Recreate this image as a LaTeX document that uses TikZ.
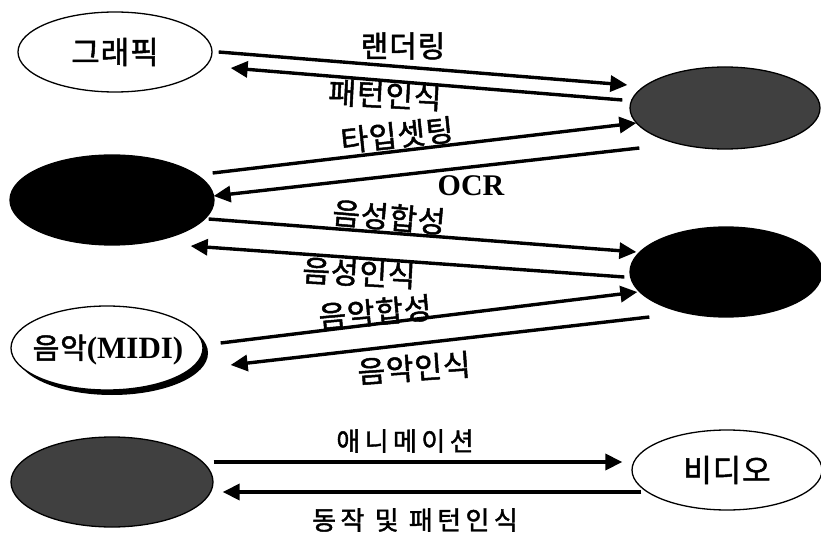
\documentclass[tikz,border=0pt]{standalone}
\usepackage{fontspec}
\setmainfont{Liberation Serif}
\newfontfamily\kr[FakeBold=1.6,LetterSpace=3]{Noto Sans CJK KR}
\newfontfamily\krwide[LetterSpace=17,FakeBold=1.6]{Noto Sans CJK KR}
\usetikzlibrary{shapes.geometric,arrows.meta,calc,shadows}
\begin{document}
\begin{tikzpicture}[x=1pt,y=-1pt,
  oval/.style={ellipse,draw=black,line width=1.3pt,inner sep=0pt},
  lightoval/.style={oval,fill=white},
  darkoval/.style={oval,fill=black!75},
  blackoval/.style={oval,fill=black},
  arr/.style={line width=3.4pt,-{Triangle[length=17pt,width=16pt]}},
  lbl/.style={font=\kr\fontsize{30}{34}\selectfont,inner sep=0pt},
  wlbl/.style={font=\krwide\fontsize{26}{30}\selectfont,inner sep=0pt},
  ocr/.style={font=\bfseries\fontsize{30}{34}\selectfont,inner sep=0pt}]
\useasboundingbox (0,0) rectangle (821,537);
% ellipses
\node[lightoval,minimum width=194,minimum height=80,font=\kr\fontsize{31}{34}\selectfont] (g) at (115,52) {그래픽};
\node[darkoval,minimum width=190,minimum height=82] (rt) at (725,108) {};
\node[blackoval,minimum width=204,minimum height=90] (lm) at (112,200) {};
\node[blackoval,minimum width=192,minimum height=90] (rm) at (726,272) {};
\node[lightoval,minimum width=192,minimum height=84,
      drop shadow={shadow xshift=5pt,shadow yshift=-5pt,fill=black,opacity=1}] (mu) at (107,348) {};
\node[inner sep=0pt] (mut) at (108,350)
      {{\kr\fontsize{29}{34}\selectfont 음악}{\bfseries\fontsize{31}{36}\selectfont(MIDI)}};
\node[darkoval,minimum width=202,minimum height=90] (lb) at (112,482) {};
\node[lightoval,minimum width=190,minimum height=80,font=\kr\fontsize{31}{34}\selectfont] (vd) at (727,470) {비디오};
% arrows
\draw[arr] ($(g.east)+(6,0)$) -- ($(rt.west)+(-2,-23)$);
\draw[arr] ($(rt.west)+(-7,-8)$) -- ($(g.east)+(18,16)$);
\draw[arr] ($(lm.east)+(-2,-27)$) -- ($(rt.west)+(7,15)$);
\draw[arr] ($(rt.west)+(10,40)$) -- ($(lm.east)+(-1,-4)$);
\draw[arr] ($(lm.east)+(-6,19)$) -- ($(rm.west)+(7,-20)$);
\draw[arr] ($(rm.west)+(-5,5)$) -- ($(lm.east)+(-24,46)$);
\draw[arr] ($(mu.east)+(17,-5)$) -- ($(rm.west)+(8,20)$);
\draw[arr] ($(rm.west)+(20,45)$) -- ($(mu.east)+(27,17)$);
\draw[arr] ($(lb.east)+(0,-20)$) -- ($(vd.west)+(-9,-8)$);
\draw[arr] ($(vd.west)+(10,22)$) -- ($(lb.east)+(9,10)$);
% labels
\node[lbl] (l1) at (403,46) {랜더링};
\node[lbl,rotate=-3] (l2) at (385,95) {패턴인식};
\node[lbl,rotate=6] (l3) at (397,135) {타입셋팅};
\node[ocr] (l4) at (471,186) {OCR};
\node[lbl,rotate=-5] (l5) at (389,217) {음성합성};
\node[lbl,rotate=-3] (l6) at (359,273) {음성인식};
\node[lbl,rotate=5] (l7) at (375,312) {음악합성};
\node[lbl,rotate=4] (l8) at (414,368) {음악인식};
\node[wlbl] (l9) at (405,441) {애니메이션};
\node[wlbl] (l10) at (415,520) {동작 및 패턴인식};
\end{tikzpicture}
\end{document}
